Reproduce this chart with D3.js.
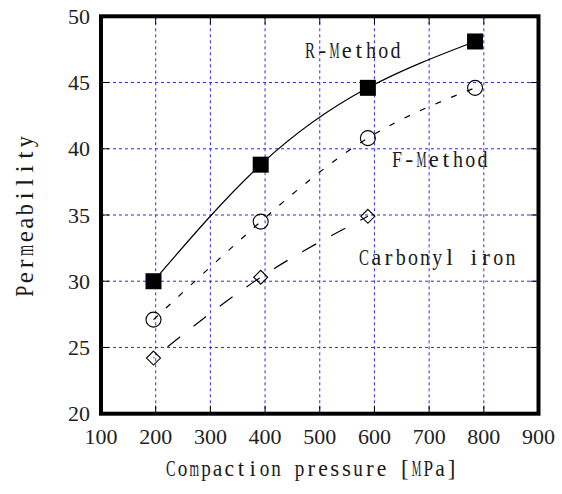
<!DOCTYPE html>
<html><head><meta charset="utf-8">
<script src="https://cdn.jsdelivr.net/npm/d3@7"></script>
<style>html,body{margin:0;padding:0;background:#fff;}svg{display:block;}</style>
</head><body>
<svg id="c" width="562" height="494"></svg>
<script>
const xTicks = [100,200,300,400,500,600,700,800,900];
const yTicks = [20,25,30,35,40,45,50];
const pressure = [196,392,588,784];
const rMethod = [30.0,38.8,44.6,48.1];
const fMethod = [27.1,34.5,40.8,44.6];
const carbonylPressure = [196,392,588];
const carbonyl = [24.2,30.3,34.9];
const seriesNames = ["R-Method","F-Method","Carbonyl iron"];
const xTitle = "Compaction pressure [MPa]";
const yTitle = "Permeability";

const svg = d3.select("#c");
const x = d3.scaleLinear().domain([100,900]).range([101,538.5]);
const y = d3.scaleLinear().domain([20,50]).range([413.7,16.3]);
const gridCol = "#2a2af0";

// grid
svg.append("g").selectAll("line").data(xTicks.slice(1,-1)).join("line")
  .attr("x1",d=>x(d)).attr("x2",d=>x(d)).attr("y1",y(50)).attr("y2",y(20))
  .attr("stroke",gridCol).attr("stroke-width",1).attr("stroke-dasharray","3,3");
svg.append("g").selectAll("line").data(yTicks.slice(1,-1)).join("line")
  .attr("y1",d=>y(d)).attr("y2",d=>y(d)).attr("x1",x(100)).attr("x2",x(900))
  .attr("stroke",gridCol).attr("stroke-width",1).attr("stroke-dasharray","3,3");

// inner ticks
const tl = 8;
const tk = svg.append("g").attr("stroke","#000").attr("stroke-width",1);
xTicks.slice(1,-1).forEach(d=>{
  tk.append("line").attr("x1",x(d)).attr("x2",x(d)).attr("y1",y(20)).attr("y2",y(20)-tl);
  tk.append("line").attr("x1",x(d)).attr("x2",x(d)).attr("y1",y(50)).attr("y2",y(50)+tl);
});
yTicks.slice(1,-1).forEach(d=>{
  tk.append("line").attr("y1",y(d)).attr("y2",y(d)).attr("x1",x(100)).attr("x2",x(100)+tl);
  tk.append("line").attr("y1",y(d)).attr("y2",y(d)).attr("x1",x(900)).attr("x2",x(900)-tl);
});

// tick labels
svg.append("g").selectAll("text").data(xTicks).join("text")
  .attr("x",d=>x(d)).attr("y",444).attr("text-anchor","middle")
  .attr("font-family","Liberation Serif").attr("font-size",22).attr("fill","#222")
  .text(d=>d);
svg.append("g").selectAll("text").data(yTicks).join("text")
  .attr("x",90).attr("y",d=>y(d)+7.5).attr("text-anchor","end")
  .attr("font-family","Liberation Serif").attr("font-size",22).attr("fill","#222")
  .text(d=>d);

// lines
const line = d3.line().x(d=>x(d[0])).y(d=>y(d[1])).curve(d3.curveNatural);
svg.append("path").attr("d",line(pressure.map((p,i)=>[p,rMethod[i]])))
  .attr("fill","none").attr("stroke","#000").attr("stroke-width",1.2);
svg.append("path").attr("d",line(pressure.map((p,i)=>[p,fMethod[i]])))
  .attr("fill","none").attr("stroke","#000").attr("stroke-width",1.2).attr("stroke-dasharray","6,11");
svg.append("path").attr("d",line(carbonylPressure.map((p,i)=>[p,carbonyl[i]])))
  .attr("fill","none").attr("stroke","#000").attr("stroke-width",1.2)
  .attr("stroke-dasharray","16,17").attr("stroke-dashoffset",-18);

// markers
svg.append("g").selectAll("rect").data(pressure.map((p,i)=>[p,rMethod[i]])).join("rect")
  .attr("x",d=>x(d[0])-8).attr("y",d=>y(d[1])-8).attr("width",16).attr("height",16).attr("fill","#000");
svg.append("g").selectAll("circle").data(pressure.map((p,i)=>[p,fMethod[i]])).join("circle")
  .attr("cx",d=>x(d[0])).attr("cy",d=>y(d[1])).attr("r",7.5)
  .attr("fill","none").attr("stroke","#000").attr("stroke-width",1.1);
svg.append("g").selectAll("path").data(carbonylPressure.map((p,i)=>[p,carbonyl[i]])).join("path")
  .attr("d",d=>{const cx=x(d[0]),cy=y(d[1]),r=7;return `M${cx},${cy-r}L${cx+r},${cy}L${cx},${cy+r}L${cx-r},${cy}Z`;})
  .attr("fill","none").attr("stroke","#000").attr("stroke-width",1.1);

// frame
svg.append("rect").attr("x",x(100)).attr("y",y(50)).attr("width",x(900)-x(100)).attr("height",y(20)-y(50))
  .attr("fill","none").attr("stroke","#000").attr("stroke-width",4);

// monospaced serif labels: each glyph centred in a fixed-width cell,
// wide glyphs narrowed with a horizontal scale so they stay in their cell
function monoLabel(t, x0, y0, cell, fs, rotate){
  const g = svg.append("g");
  if(rotate) g.attr("transform",`translate(${x0},${y0}) rotate(-90)`);
  const ox = rotate?0:x0, oy = rotate?0:y0;
  Array.from(t).forEach((ch,i)=>{
    if(ch===" ") return;
    const cx = ox+cell*(i+0.5);
    const el = g.append("text").attr("x",0).attr("y",0)
      .attr("text-anchor","middle").attr("font-family","Liberation Serif")
      .attr("font-size",fs).attr("fill","#1a1a1a").text(ch);
    const w = el.node().getComputedTextLength();
    const maxW = cell*0.82;
    const s = w>maxW ? maxW/w : 1;
    el.attr("transform",`translate(${cx},${oy}) scale(${s},1)`);
  });
  return g;
}
monoLabel(seriesNames[0],304,58,12.2,24);
monoLabel(seriesNames[1],391,167,12.2,24);
monoLabel(seriesNames[2],358,265,12.2,24);
monoLabel(xTitle,165,476,11.7,23);
monoLabel(yTitle,33,298,13.6,26,true);
</script>
</body></html>
